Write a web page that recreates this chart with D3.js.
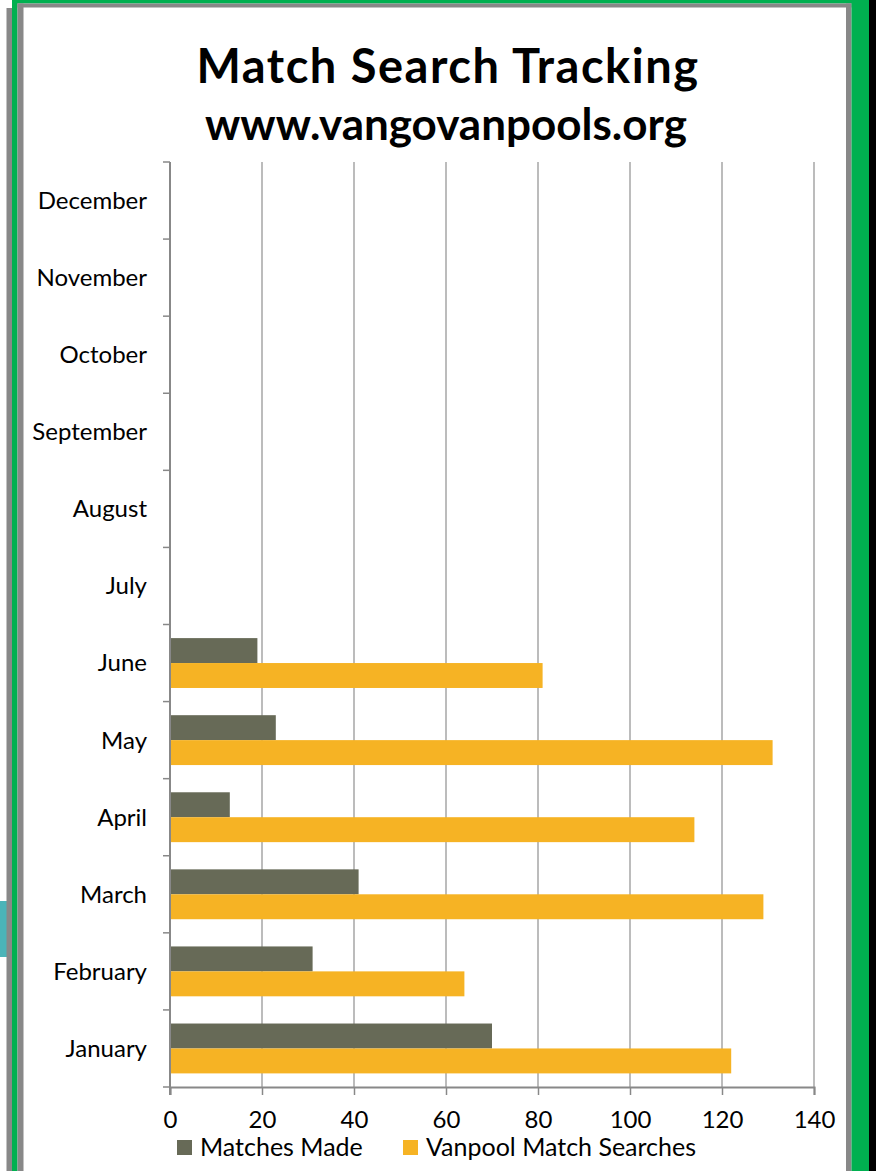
<!DOCTYPE html>
<html>
<head>
<meta charset="utf-8">
<script src="https://cdn.jsdelivr.net/npm/d3@7"></script>
<style>
  html, body { margin: 0; padding: 0; background: #fff; }
  svg { display: block; font-family: "Gill Sans", "Lato", sans-serif; }
</style>
</head>
<body>
<div id="chart"></div>
<script>
// data
var months = ["January", "February", "March", "April", "May", "June",
              "July", "August", "September", "October", "November", "December"];
var matchesMade = [70, 31, 41, 13, 23, 19, null, null, null, null, null, null];
var vanpoolSearches = [122, 64, 129, 114, 131, 81, null, null, null, null, null, null];
var seriesNames = ["Matches Made", "Vanpool Match Searches"];
var seriesColors = ["#676a57", "#f6b324"];
var xTicks = [0, 20, 40, 60, 80, 100, 120, 140];

var width = 888, height = 1171;
var plot = {left: 170, right: 814, top: 162, bottom: 1087};

var svg = d3.select("#chart").append("svg")
  .attr("width", width).attr("height", height);

// frame: grey/green borders of the slide
svg.append("rect").attr("x", 0).attr("y", 901).attr("width", 7).attr("height", 56).attr("fill", "#4bb4b8");
svg.append("rect").attr("x", 6.5).attr("y", 8).attr("width", 6).attr("height", height).attr("fill", "#888");
svg.append("rect").attr("x", 12).attr("y", 0).attr("width", 5.5).attr("height", height).attr("fill", "#00b050");
svg.append("rect").attr("x", 12).attr("y", 0).attr("width", 857).attr("height", 3.5).attr("fill", "#00b050");
svg.append("rect").attr("x", 17.5).attr("y", 3.5).attr("width", 6).attr("height", height).attr("fill", "#888");
svg.append("rect").attr("x", 17.5).attr("y", 3.5).attr("width", 834).attr("height", 4).attr("fill", "#888");
svg.append("rect").attr("x", 846).attr("y", 3.5).attr("width", 5.5).attr("height", height).attr("fill", "#888");
svg.append("rect").attr("x", 851.5).attr("y", 0).attr("width", 17.5).attr("height", height).attr("fill", "#00b050");
svg.append("rect").attr("x", 869).attr("y", 0).attr("width", 7).attr("height", height).attr("fill", "#000");

// titles
svg.append("text").attr("x", 448).attr("y", 83)
  .attr("text-anchor", "middle").attr("font-size", 47).attr("font-weight", "bold")
  .attr("letter-spacing", 1.5)
  .text("Match Search Tracking");
svg.append("text").attr("x", 446).attr("y", 140)
  .attr("text-anchor", "middle").attr("font-size", 44).attr("font-weight", "bold")
  .text("www.vangovanpools.org");

var x = d3.scaleLinear().domain([0, 140]).range([plot.left, plot.right]);
var y = d3.scaleBand().domain(months.slice().reverse())
  .range([plot.top, plot.bottom]).paddingInner(0.353).paddingOuter(0.1765);
var ySub = d3.scaleBand().domain(seriesNames).range([0, y.bandwidth()]);

// vertical gridlines
svg.append("g").selectAll("line")
  .data(xTicks.slice(1))
  .enter().append("line")
  .attr("x1", function(d) { return x(d); })
  .attr("x2", function(d) { return x(d); })
  .attr("y1", plot.top).attr("y2", plot.bottom)
  .attr("stroke", "#a6a6a6").attr("stroke-width", 1.5);

// bars
var rows = months.map(function(m, i) {
  return {month: m, values: [matchesMade[i], vanpoolSearches[i]]};
});
var rowG = svg.append("g").selectAll("g")
  .data(rows)
  .enter().append("g")
  .attr("transform", function(d) { return "translate(0," + y(d.month) + ")"; });
rowG.selectAll("rect")
  .data(function(d) {
    return d.values.map(function(v, j) { return {name: seriesNames[j], value: v, color: seriesColors[j]}; })
      .filter(function(e) { return e.value != null; });
  })
  .enter().append("rect")
  .attr("x", x(0))
  .attr("y", function(d) { return ySub(d.name); })
  .attr("width", function(d) { return x(d.value) - x(0); })
  .attr("height", ySub.bandwidth())
  .attr("fill", function(d) { return d.color; });

// y axis: category ticks sit on band boundaries
var yAxis = svg.append("g");
var yBounds = d3.range(months.length + 1).map(function(i) {
  return plot.top + i * (plot.bottom - plot.top) / months.length;
});
yAxis.append("line").attr("x1", plot.left).attr("x2", plot.left)
  .attr("y1", plot.top).attr("y2", plot.bottom + 8)
  .attr("stroke", "#888").attr("stroke-width", 2);
yAxis.selectAll(".tick").data(yBounds).enter().append("line")
  .attr("x1", plot.left - 7).attr("x2", plot.left)
  .attr("y1", function(d) { return d; }).attr("y2", function(d) { return d; })
  .attr("stroke", "#888").attr("stroke-width", 1.5);
yAxis.selectAll("text").data(months).enter().append("text")
  .attr("x", 147)
  .attr("y", function(d) { return y(d) + y.bandwidth() / 2; })
  .attr("dy", "0.35em")
  .attr("text-anchor", "end").attr("font-size", 24).attr("fill", "#000")
  .text(function(d) { return d; });

// x axis
var xAxis = svg.append("g").attr("transform", "translate(0," + plot.bottom + ")")
  .call(d3.axisBottom(x).tickValues(xTicks).tickSize(8).tickPadding(16));
xAxis.select(".domain").attr("stroke", "#888").attr("stroke-width", 2);
xAxis.selectAll(".tick line").attr("stroke", "#888").attr("stroke-width", 1.5);
xAxis.selectAll(".tick text").attr("font-size", 24).attr("fill", "#000")
  .attr("font-family", "\"Gill Sans\", \"Lato\", sans-serif");

// legend
var legendX = [177, 403];
var legend = svg.append("g").selectAll("g")
  .data(seriesNames)
  .enter().append("g")
  .attr("transform", function(d, i) { return "translate(" + legendX[i] + ",1140)"; });
legend.append("rect").attr("width", 15).attr("height", 15)
  .attr("fill", function(d, i) { return seriesColors[i]; });
legend.append("text").attr("x", 23).attr("y", 16)
  .attr("font-size", 25).attr("fill", "#000")
  .text(function(d) { return d; });
</script>
</body>
</html>
